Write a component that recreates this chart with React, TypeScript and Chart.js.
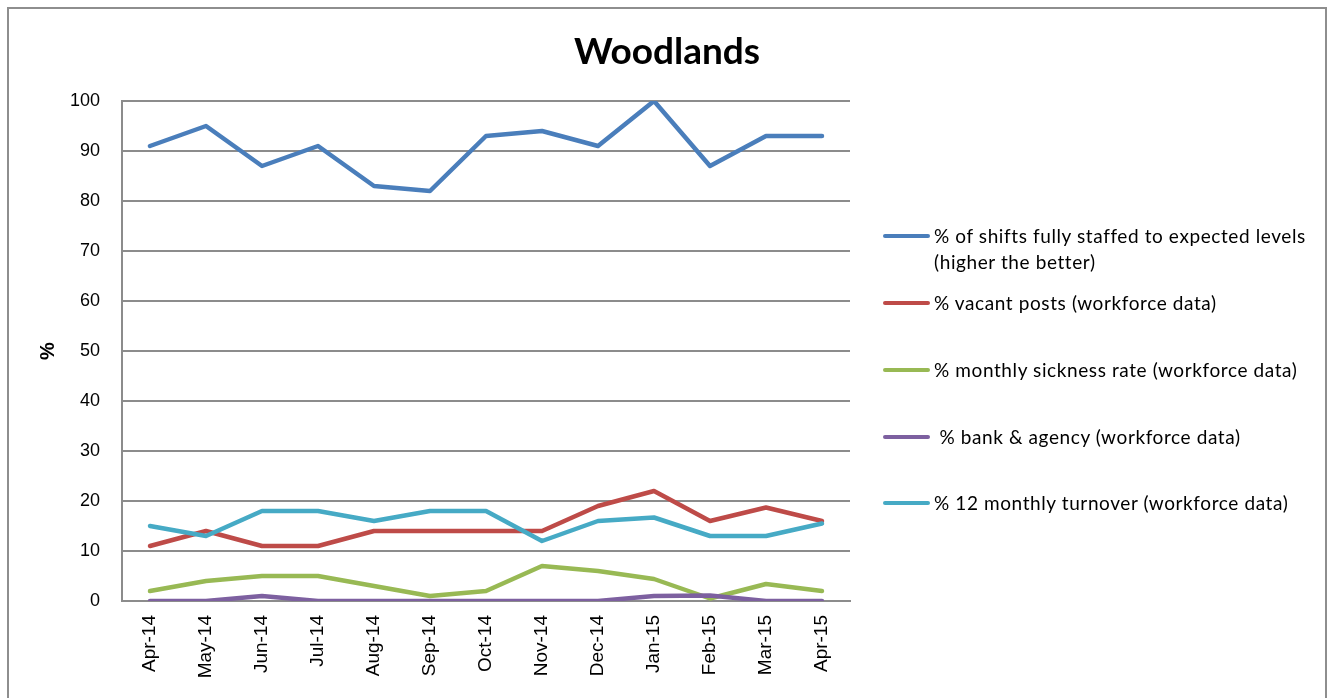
import React, { useEffect, useRef } from "react";
import { Chart, registerables } from "chart.js";

Chart.register(...registerables);

const months = ["Apr-14", "May-14", "Jun-14", "Jul-14", "Aug-14", "Sep-14", "Oct-14", "Nov-14", "Dec-14", "Jan-15", "Feb-15", "Mar-15", "Apr-15"];
const shiftsStaffed = [91, 95, 87, 91, 83, 82, 93, 94, 91, 100, 87, 93, 93];
const vacantPosts = [11, 14, 11, 11, 14, 14, 14, 14, 19, 22, 16, 18.7, 16];
const sicknessRate = [2, 4, 5, 5, 3, 1, 2, 7, 6, 4.4, 0.5, 3.4, 2];
const bankAgency = [0, 0, 1, 0, 0, 0, 0, 0, 0, 1, 1.1, 0, 0];
const turnover = [15, 13, 18, 18, 16, 18, 18, 12, 16, 16.7, 13, 13, 15.5];

const seriesLabels = [
  "% of shifts fully staffed to expected levels (higher the better)",
  "% vacant posts (workforce data)",
  "% monthly sickness rate (workforce data)",
  " % bank & agency (workforce data)",
  "% 12 monthly turnover (workforce data)",
];
const seriesColors = ["#4a7ebb", "#be4b48", "#98b954", "#7d60a0", "#46aac5"];
const seriesData = [shiftsStaffed, vacantPosts, sicknessRate, bankAgency, turnover];

const chartTitle = "Woodlands";
const yTitle = "%";

const legendLines: string[][] = [
  ["% of shifts fully staffed to expected levels", "(higher the better)"],
  ["% vacant posts (workforce data)"],
  ["% monthly sickness rate (workforce data)"],
  ["\u00a0% bank & agency (workforce data)"],
  ["% 12 monthly turnover (workforce data)"],
];
const legendY = [236, 303, 370, 437, 503];

export default function App() {
  const ref = useRef<HTMLCanvasElement | null>(null);

  useEffect(() => {
    if (!ref.current) return;
    const chart = new Chart(ref.current, {
      type: "line",
      data: {
        labels: months,
        datasets: seriesData.map((d, i) => ({
          label: seriesLabels[i],
          data: d,
          borderColor: seriesColors[i],
          backgroundColor: seriesColors[i],
          borderWidth: 4.5,
          pointRadius: 0,
          pointHoverRadius: 0,
          tension: 0,
          fill: false,
          borderJoinStyle: "round" as const,
          borderCapStyle: "round" as const,
          order: seriesData.length - i,
        })),
      },
      options: {
        animation: false,
        responsive: false,
        maintainAspectRatio: false,
        layout: { padding: { left: 0, top: 101, right: 484, bottom: 0 } },
        plugins: {
          legend: { display: false },
          title: { display: false },
          tooltip: { enabled: false },
        },
        scales: {
          x: {
            type: "category",
            offset: true,
            grid: { display: false, drawTicks: false },
            border: { display: true, color: "#8c8c8c", width: 2 },
            ticks: {
              minRotation: 90,
              maxRotation: 90,
              autoSkip: false,
              padding: 14,
              color: "#000",
              font: { family: "Liberation Sans", size: 19 },
            },
            afterFit: (s: any) => {
              s.height = 97;
            },
          },
          y: {
            min: 0,
            max: 100,
            ticks: {
              stepSize: 10,
              padding: 22,
              color: "#000",
              font: { family: "Liberation Sans", size: 18 },
            },
            grid: { color: "#8c8c8c", lineWidth: 2, drawTicks: false },
            border: { display: true, color: "#8c8c8c", width: 2 },
            title: {
              display: true,
              text: yTitle,
              color: "#000",
              font: { family: "Liberation Sans", size: 20, weight: "bold" },
              padding: { top: 36, bottom: 0 },
            },
            afterFit: (s: any) => {
              s.width = 122;
            },
          },
        },
      },
    });
    return () => chart.destroy();
  }, []);

  return (
    <div style={{ position: "fixed", left: 0, top: 0, width: 1334, height: 698, overflow: "hidden", background: "#fff" }}>
      <div
        style={{
          position: "absolute",
          left: 7,
          top: 7,
          width: 1320,
          height: 760,
          border: "2px solid #8e8e8e",
          boxSizing: "border-box",
        }}
      />
      <canvas ref={ref} width={1334} height={698} style={{ position: "absolute", left: 0, top: 0, width: 1334, height: 698 }} />
      <div
        style={{
          position: "absolute",
          left: 667,
          top: 26,
          transform: "translateX(-50%)",
          fontFamily: "Lato",
          fontWeight: "bold",
          fontSize: 37,
          lineHeight: "48px",
          color: "#000",
          whiteSpace: "nowrap",
        }}
      >
        {chartTitle}
      </div>
      {legendLines.map((lines, i) => (
        <React.Fragment key={i}>
          <div
            style={{
              position: "absolute",
              left: 883,
              top: legendY[i] - 2,
              width: 47,
              height: 4,
              borderRadius: 2,
              background: seriesColors[i],
            }}
          />
          <div
            style={{
              position: "absolute",
              left: 934,
              top: legendY[i] - 13,
              fontFamily: "Lato",
              fontSize: 19,
              letterSpacing: "0.6px",
              lineHeight: "26px",
              color: "#000",
              whiteSpace: "nowrap",
            }}
          >
            {lines.map((t, j) => (
              <div key={j}>{t}</div>
            ))}
          </div>
        </React.Fragment>
      ))}
    </div>
  );
}
